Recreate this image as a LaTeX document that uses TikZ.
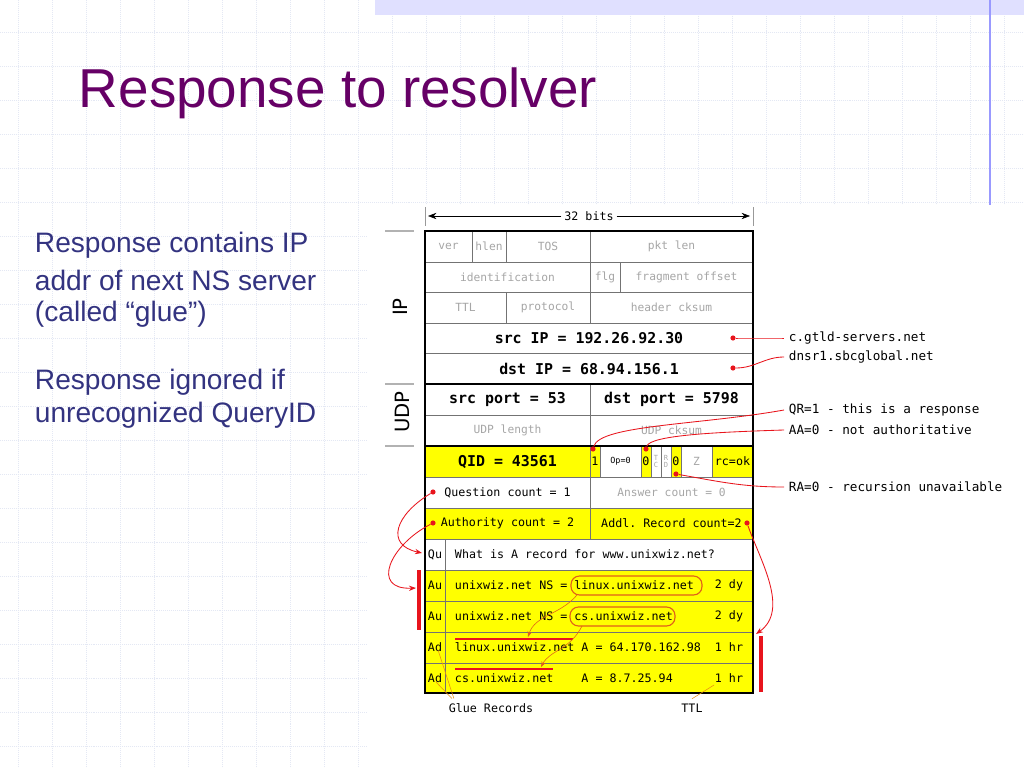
\documentclass[tikz,border=0pt]{standalone}
\usepackage{fontspec}
\setmainfont{DejaVu Sans}
\setmonofont{DejaVu Sans Mono}
\newfontfamily\slidefont{Liberation Sans}
\usetikzlibrary{arrows.meta}
\definecolor{titlepurple}{HTML}{660066}
\definecolor{bodyblue}{HTML}{333380}
\definecolor{gridblue}{HTML}{E4E8F4}
\definecolor{hiyellow}{HTML}{FFFF00}
\definecolor{notered}{HTML}{E8141C}
\definecolor{ovalorange}{HTML}{E0601A}
\tikzset{
  cell/.style={draw=black!55,line width=.7pt},
  dim/.style={font=\ttfamily\fontsize{8}{9}\selectfont,text=black!35},
  txt/.style={font=\ttfamily\fontsize{8.3}{10}\selectfont},
  big/.style={font=\ttfamily\bfseries\fontsize{10.6}{12}\selectfont},
  note/.style={font=\ttfamily\fontsize{9}{10}\selectfont,anchor=west},
  side/.style={font=\fontsize{14}{16}\selectfont,rotate=90},
  slide/.style={font=\slidefont\fontsize{20}{24}\selectfont,anchor=west,text=bodyblue},
  redline/.style={draw=notered,line width=.6pt},
  dot/.style={circle,fill=notered,inner sep=1.3pt},
}
% field: style, name, x1, y1, x2, y2, fill, text
\newcommand\fld[8]{%
  \draw[cell,fill=#7] (#3,#4) rectangle (#5,#6);
  \node[#1] (#2) at ({(#3+#5)/2},{(#4+#6)/2}) {#8};}
\begin{document}
\begin{tikzpicture}[x=0.025cm,y=-0.025cm]
  \useasboundingbox (0,0) rectangle (1024,768);
  % slide background
  \fill[white] (0,0) rectangle (1024,768);
  \foreach \gx in {18,52,...,1024} \draw[gridblue,densely dotted] (\gx,0) -- (\gx,768);
  \foreach \gy in {32,66,...,768} \draw[gridblue,densely dotted] (0,\gy) -- (1024,\gy);
  \fill[blue!12] (375,0) rectangle (1024,15);
  \draw[blue!40,line width=.8pt] (990,0) -- (990,205);
  \fill[white] (368,205) rectangle (1024,768);
  \node[font=\slidefont\fontsize{39}{44}\selectfont,text=titlepurple,anchor=west] (title) at (74,93) {Response to resolver};
  \node[slide] (l1) at (30,245) {Response contains IP};
  \node[slide] (l2) at (30,280) {addr of next NS server};
  \node[slide] (l3) at (30,314) {(called “glue”)};
  \node[slide] (l4) at (30,382) {Response ignored if};
  \node[slide] (l5) at (30,415) {unrecognized QueryID};

  % width marker
  \draw[black!40] (425,207) -- (425,226) (753,207) -- (753,226);
  \node[txt,fill=white,inner sep=2pt] (bits) at (589,216) {32 bits};
  \draw[-{Stealth[length=6pt]}] (bits.west) -- (428,216);
  \draw[-{Stealth[length=6pt]}] (bits.east) -- (750,216);

  % IP header
  \fld{dim}{ver}{425}{231}{472}{262}{white}{ver}
  \fld{dim}{hlen}{472}{231}{506}{262}{white}{hlen}
  \fld{dim}{tos}{506}{231}{590}{262}{white}{TOS}
  \fld{dim}{pktlen}{590}{231}{753}{262}{white}{pkt len}
  \fld{dim}{ident}{425}{262}{590}{292}{white}{identification}
  \fld{dim}{flg}{590}{262}{620}{292}{white}{flg}
  \fld{dim}{frag}{620}{262}{753}{292}{white}{fragment offset}
  \fld{dim}{ttl}{425}{292}{506}{323}{white}{TTL}
  \fld{dim}{proto}{506}{292}{590}{323}{white}{protocol}
  \fld{dim}{hcksum}{590}{292}{753}{323}{white}{header cksum}
  \fld{big}{srcip}{425}{323}{753}{353}{white}{src IP = 192.26.92.30}
  \fld{big}{dstip}{425}{353}{753}{384}{white}{dst IP = 68.94.156.1}
  % UDP header
  \fld{big}{sport}{425}{384}{590}{415}{white}{src port = 53}
  \fld{big}{dport}{590}{384}{753}{415}{white}{dst port = 5798}
  \fld{dim}{ulen}{425}{415}{590}{446}{white}{UDP length}
  \fld{dim}{ucksum}{590}{415}{753}{446}{white}{UDP cksum}
  % DNS header
  \fld{big}{qid}{425}{446}{590}{477}{hiyellow}{QID = 43561}
  \fld{txt,inner sep=0pt}{qr}{590}{446}{600}{477}{hiyellow}{1}
  \fld{dim,text=black,font=\ttfamily\fontsize{6}{7}\selectfont}{op}{600}{446}{641}{477}{white}{Op=0}
  \fld{txt,inner sep=0pt}{aa}{641}{446}{651}{477}{hiyellow}{0}
  \fld{dim,inner sep=0pt,font=\ttfamily\fontsize{5}{5.5}\selectfont,align=center}{tc}{651}{446}{661}{477}{white}{T\\C}
  \fld{dim,inner sep=0pt,font=\ttfamily\fontsize{5}{5.5}\selectfont,align=center}{rd}{661}{446}{671}{477}{white}{R\\D}
  \fld{txt,inner sep=0pt}{ra}{671}{446}{681}{477}{hiyellow}{0}
  \fld{dim}{zz}{681}{446}{712}{477}{white}{Z}
  \fld{txt}{rc}{712}{446}{753}{477}{hiyellow}{rc=ok}
  \fld{txt}{qcount}{425}{477}{590}{508}{white}{Question count = 1}
  \fld{dim}{acount}{590}{477}{753}{508}{white}{Answer count = 0}
  \fld{txt}{ncount}{425}{508}{590}{539}{hiyellow}{Authority count = 2}
  \fld{txt}{rcount}{590}{508}{753}{539}{hiyellow}{Addl. Record count=2}
  % DNS records
  \fld{txt}{qu}{425}{539}{445}{570}{white}{Qu}
  \draw[cell,fill=white] (445,539) rectangle (753,570);
  \node[txt,anchor=west] (qtext) at (450,554) {What is A record for www.unixwiz.net?};
  \foreach \tag/\ya/\yb/\rname/\rdata/\rttl in {
      Au/570/601/au1/{unixwiz.net NS = linux.unixwiz.net}/2 dy,
      Au/601/632/au2/{unixwiz.net NS = cs.unixwiz.net}/2 dy,
      Ad/632/663/ad1/{linux.unixwiz.net A = 64.170.162.98}/1 hr,
      Ad/663/693/ad2/{cs.unixwiz.net\ \ \ \ A = 8.7.25.94}/1 hr} {
    \fld{txt}{\rname tag}{425}{\ya}{445}{\yb}{hiyellow}{\tag}
    \draw[cell,fill=hiyellow] (445,\ya) rectangle (753,\yb);
    \node[txt,anchor=west] (\rname) at (450,{(\ya+\yb)/2}) {\rdata};
    \node[txt,anchor=east] (\rname ttl) at (748,{(\ya+\yb)/2}) {\rttl};
  }
  \draw[line width=1.3pt] (425,231) rectangle (753,693);
  \draw[line width=1pt] (425,384) -- (753,384) (425,446) -- (753,446);

  % side labels
  \node[side] (iplab) at (400,307) {IP};
  \node[side] (udplab) at (402,412) {UDP};
  \draw[black!30,line width=1.2pt] (385,231) -- (414,231) (385,384) -- (414,384) (385,446) -- (414,446);

  % notes on the right
  \node[note] (cgtld) at (784,338) {c.gtld-servers.net};
  \node[note] (dnsr) at (784,357) {dnsr1.sbcglobal.net};
  \node[note] (qrnote) at (784,410) {QR=1 - this is a response};
  \node[note] (aanote) at (784,430) {AA=0 - not authoritative};
  \node[note] (ranote) at (784,487) {RA=0 - recursion unavailable};
  \node[dot] (srcdot) at (733,338) {};
  \node[dot] (dstdot) at (733,368) {};
  \node[dot] (qrdot) at (593,449) {};
  \node[dot] (aadot) at (646,449) {};
  \node[dot] (radot) at (676,474) {};
  \node[dot] (qdot) at (433,492) {};
  \node[dot] (ndot) at (433,523) {};
  \node[dot] (rdot) at (747,523) {};
  \draw[redline] (srcdot) to[out=0,in=180] (cgtld.west);
  \draw[redline] (dstdot) to[out=0,in=180] (dnsr.west);
  \draw[redline] (qrdot) .. controls (600,425) and (700,425) .. (qrnote.west);
  \draw[redline] (aadot) .. controls (650,435) and (720,432) .. (aanote.west);
  \draw[redline] (radot) to[out=-10,in=180] (ranote.west);
  \draw[redline,-{Stealth[length=5pt]}] (qdot) .. controls (395,515) and (385,545) .. (422,553);
  \draw[redline,-{Stealth[length=5pt]}] (ndot) .. controls (390,545) and (370,590) .. (416,588);
  \draw[redline,-{Stealth[length=5pt]}] (rdot) .. controls (760,560) and (790,610) .. (756,634);
  \draw[notered,line width=2.2pt] (419,570) -- (419,630) (761,636) -- (761,692);

  % glue highlights
  \draw[ovalorange,line width=.8pt,rounded corners=6pt] (571,576) rectangle (702,595);
  \draw[ovalorange,line width=.8pt,rounded corners=6pt] (570,607) rectangle (675,626);
  \draw[notered,line width=.8pt] (455,639) -- (573,639) (455,669) -- (553,669);
  \draw[ovalorange,-{Stealth[length=4pt]}] (577,595) .. controls (560,615) and (535,615) .. (528,637);
  \draw[ovalorange,-{Stealth[length=4pt]}] (582,626) .. controls (570,650) and (550,650) .. (541,667);
  \node[txt] (glue) at (491,708) {Glue Records};
  \node[txt] (ttllab) at (692,708) {TTL};
  \draw[ovalorange!70!yellow] (glue.north west) ++(8,0) -- (436,682);
  \draw[ovalorange!70!yellow] (glue.north west) ++(10,0) -- (438,650);
  \draw[ovalorange!70!yellow] (ttllab.north) -- (714,685);
\end{tikzpicture}
\end{document}
